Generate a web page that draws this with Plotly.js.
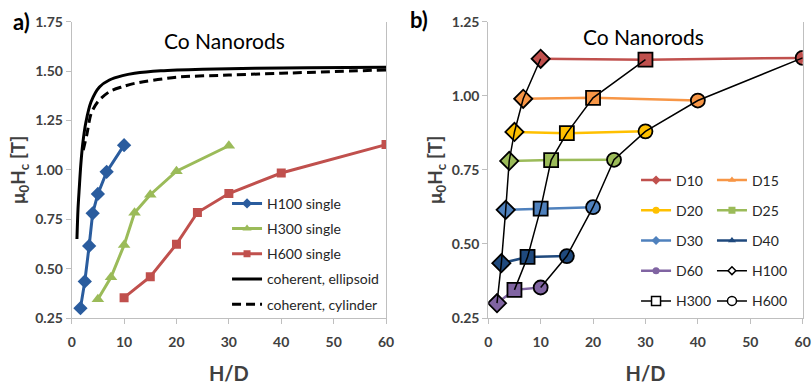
<!DOCTYPE html>
<html>
<head>
<meta charset="utf-8">
<script src="https://cdn.plot.ly/plotly-3.0.1.min.js"></script>
<style>html,body{margin:0;padding:0;background:#fff}#chart{width:812px;height:388px}</style>
</head>
<body>
<div id="chart"></div>
<script>
// ---- data ----
var diameters = ['D10', 'D15', 'D20', 'D25', 'D30', 'D40', 'D60'];
var hd_H100 = [10, 6.67, 5, 4, 3.33, 2.5, 1.67];
var hc_H100 = [1.125, 0.99, 0.878, 0.78, 0.615, 0.435, 0.30];
var hd_H300 = [30, 20, 15, 12, 10, 7.5, 5];
var hc_H300 = [1.122, 0.993, 0.874, 0.783, 0.619, 0.456, 0.345];
var hd_H600 = [60, 40, 30, 24, 20, 15, 10];
var hc_H600 = [1.128, 0.984, 0.880, 0.784, 0.624, 0.459, 0.353];
var ell_x = [1.0, 1.2, 1.45, 1.75, 2.1, 2.7, 3.7, 5.3, 7.2, 9.7, 12, 17, 25, 35, 45, 60];
var ell_y = [0.65, 0.80, 0.91, 1.03, 1.13, 1.24, 1.345, 1.42, 1.455, 1.477, 1.489, 1.502, 1.51, 1.514, 1.517, 1.52];
var cyl_x = [2.2, 2.9, 3.7, 5.0, 7.2, 9.7, 12, 20, 30, 40, 60];
var cyl_y = [1.10, 1.18, 1.285, 1.345, 1.396, 1.421, 1.438, 1.469, 1.48, 1.489, 1.506];
var xTicks = [0, 10, 20, 30, 40, 50, 60];
var yTicksA = [0.25, 0.5, 0.75, 1.0, 1.25, 1.5, 1.75];
var yTicksB = [0.25, 0.5, 0.75, 1.0, 1.25];

// ---- styles ----
var dColors = ['#C0504D', '#F79646', '#FFC000', '#9BBB59', '#4F81BD', '#1F497D', '#8064A2'];
var dSymbols = ['diamond', 'triangle-up', 'circle', 'square', 'diamond', 'triangle-up', 'circle'];
var dLegend = ['legend2', 'legend3', 'legend2', 'legend3', 'legend2', 'legend3', 'legend2'];
var FONT = 'Lato, "Open Sans", sans-serif';

var traces = [];
// panel a
var aSets = [['H100 single', hd_H100, hc_H100, '#2A5C9E', 'diamond', 11, 8],
             ['H300 single', hd_H300, hc_H300, '#9BBB59', 'triangle-up', 11, 8],
             ['H600 single', hd_H600, hc_H600, '#C0504D', 'square', 9, 7]];
aSets.forEach(function (s, k) {
  traces.push({x: s[1], y: s[2], mode: 'lines+markers', xaxis: 'x', yaxis: 'y', showlegend: false,
    line: {color: s[3], width: 3}, marker: {symbol: s[4], size: s[5], color: s[3]}});
  // legend entry (small marker as in reference)
  traces.push({x: [null], y: [null], name: s[0], mode: 'lines+markers', xaxis: 'x', yaxis: 'y', legend: 'legend',
    legendgroup: 'a' + k, legendrank: k + 1, line: {color: s[3], width: 3}, marker: {symbol: s[4], size: s[6], color: s[3]}});
});
traces.push({x: ell_x, y: ell_y, name: 'coherent, ellipsoid', mode: 'lines', xaxis: 'x', yaxis: 'y', legend: 'legend',
  legendgroup: 'a4', legendrank: 4, line: {color: '#000', width: 3, shape: 'spline', smoothing: 0.8}});
traces.push({x: cyl_x, y: cyl_y, name: 'coherent, cylinder', mode: 'lines', xaxis: 'x', yaxis: 'y', legend: 'legend',
  legendgroup: 'a5', legendrank: 5, line: {color: '#000', width: 3, dash: '9px,5px', shape: 'spline', smoothing: 0.8}});

// panel b: D lines
for (var i = 0; i < diameters.length; i++) {
  traces.push({x: [hd_H100[i], hd_H300[i], hd_H600[i]], y: [hc_H100[i], hc_H300[i], hc_H600[i]],
    name: diameters[i], mode: 'lines+markers', xaxis: 'x2', yaxis: 'y2', legend: dLegend[i], legendgroup: 'b' + i,
    legendrank: i + 1, line: {color: dColors[i], width: 2.5}, marker: {symbol: dSymbols[i], size: 7, color: dColors[i]}});
}
// panel b: H series (coloured fills, then black outlines)
var hSets = [['H100', hd_H100, hc_H100, 'diamond', 14, 'legend3', 6],
             ['H300', hd_H300, hc_H300, 'square', 14, 'legend2', 9],
             ['H600', hd_H600, hc_H600, 'circle', 14, 'legend3', 9]];
hSets.forEach(function (h) {
  traces.push({x: h[1], y: h[2], mode: 'markers', xaxis: 'x2', yaxis: 'y2', showlegend: false, hoverinfo: 'skip',
    marker: {symbol: h[3], size: h[4], color: dColors, line: {width: 0}}});
});
hSets.forEach(function (h, k) {
  traces.push({x: h[1], y: h[2], mode: 'lines+markers', xaxis: 'x2', yaxis: 'y2', showlegend: false,
    line: {color: '#000', width: 1.5},
    marker: {symbol: h[3], size: h[4], color: 'rgba(0,0,0,0)', line: {color: '#000', width: 1.8}}});
  traces.push({x: [null], y: [null], name: h[0], mode: 'lines+markers', xaxis: 'x2', yaxis: 'y2', legend: h[5],
    legendgroup: 'h' + k, legendrank: 10 + k, line: {color: '#000', width: 1.5},
    marker: {symbol: h[3], size: h[6], color: '#fff', line: {color: '#000', width: 1.5}}});
});

function xax(domain) {
  return {domain: domain, range: [0, 60], tickvals: xTicks, ticks: 'outside', ticklen: 5, tickcolor: '#BFBFBF',
    showline: true, linecolor: '#BFBFBF', linewidth: 1, showgrid: false, zeroline: false, mirror: false,
    ticklabelstandoff: 6,
    tickfont: {family: FONT, size: 14, color: '#404040', weight: 'bold'},
    title: {text: '<b>H/D</b>', font: {family: FONT, size: 20, color: '#404040'}, standoff: 18}};
}
function yax(range, ticks, anchor) {
  return {domain: [0.1804, 0.944], range: range, tickvals: ticks, tickformat: '.2f', ticks: 'outside', ticklen: 5,
    tickcolor: '#BFBFBF', showline: true, linecolor: '#BFBFBF', linewidth: 1, mirror: true, showgrid: false,
    zeroline: false, anchor: anchor,
    tickfont: {family: FONT, size: 14, color: '#404040', weight: 'bold'},
    title: {text: '<b>μ<sub>0</sub>H<sub>c</sub> [T]</b>', font: {family: FONT, size: 19, color: '#404040'}, standoff: 4}};
}

var legFont = {family: FONT, size: 14, color: '#262626'};
var layout = {
  width: 812, height: 388, margin: {l: 0, r: 0, t: 0, b: 0}, paper_bgcolor: '#fff', plot_bgcolor: '#fff',
  xaxis: xax([0.0883, 0.4754]), yaxis: yax([0.25, 1.75], yTicksA, 'x'),
  xaxis2: xax([0.6013, 0.9885]), yaxis2: yax([0.25, 1.25], yTicksB, 'x2'),
  legend: {x: 0.2796, y: 0.516, xanchor: 'left', yanchor: 'top', bgcolor: 'rgba(0,0,0,0)', font: legFont, tracegroupgap: 4},
  legend2: {x: 0.7833, y: 0.576, xanchor: 'left', yanchor: 'top', bgcolor: 'rgba(0,0,0,0)', font: legFont, tracegroupgap: 9},
  legend3: {x: 0.8768, y: 0.576, xanchor: 'left', yanchor: 'top', bgcolor: 'rgba(0,0,0,0)', font: legFont, tracegroupgap: 9},
  annotations: [
    {text: 'Co Nanorods', xref: 'paper', yref: 'paper', x: 224.5 / 812, y: 1 - 41 / 388, xanchor: 'center', yanchor: 'middle',
      showarrow: false, font: {family: FONT, size: 21, color: '#000'}},
    {text: 'Co Nanorods', xref: 'paper', yref: 'paper', x: 643.7 / 812, y: 1 - 36 / 388, xanchor: 'center', yanchor: 'middle',
      showarrow: false, font: {family: FONT, size: 21, color: '#000'}},
    {text: '<b>a)</b>', xref: 'paper', yref: 'paper', x: 11 / 812, y: 1 - 21 / 388, xanchor: 'left', yanchor: 'middle',
      showarrow: false, font: {family: FONT, size: 22, color: '#000'}},
    {text: '<b>b)</b>', xref: 'paper', yref: 'paper', x: 408 / 812, y: 1 - 19 / 388, xanchor: 'left', yanchor: 'middle',
      showarrow: false, font: {family: FONT, size: 22, color: '#000'}}
  ],
  showlegend: true
};
Plotly.newPlot('chart', traces, layout, {staticPlot: true, displayModeBar: false});
</script>
</body>
</html>
